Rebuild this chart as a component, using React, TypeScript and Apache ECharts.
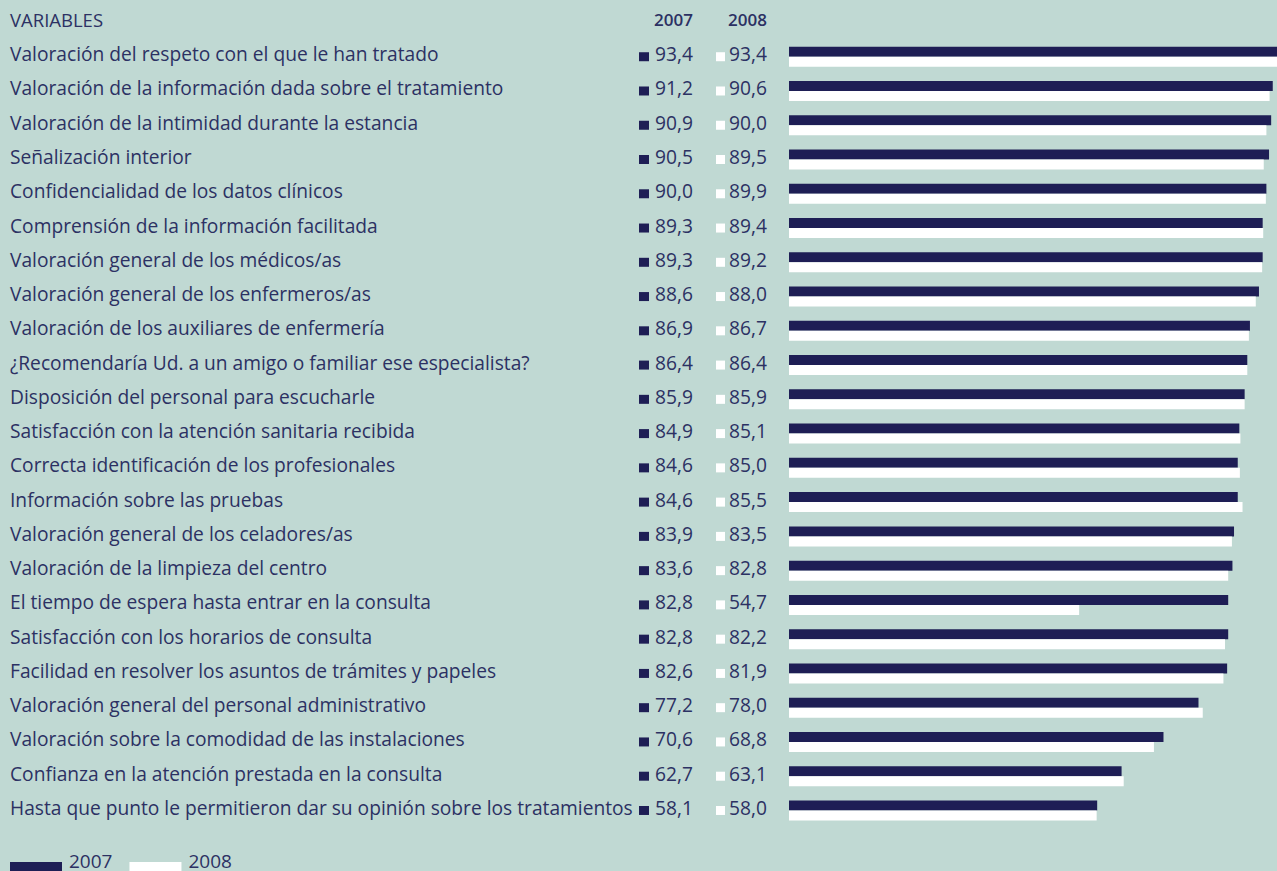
import React, { useEffect, useRef } from "react";
import * as echarts from "echarts";

const categories = [
  "Valoración del respeto con el que le han tratado",
  "Valoración de la información dada sobre el tratamiento",
  "Valoración de la intimidad durante la estancia",
  "Señalización interior",
  "Confidencialidad de los datos clínicos",
  "Comprensión de la información facilitada",
  "Valoración general de los médicos/as",
  "Valoración general de los enfermeros/as",
  "Valoración de los auxiliares de enfermería",
  "¿Recomendaría Ud. a un amigo o familiar ese especialista?",
  "Disposición del personal para escucharle",
  "Satisfacción con la atención sanitaria recibida",
  "Correcta identificación de los profesionales",
  "Información sobre las pruebas",
  "Valoración general de los celadores/as",
  "Valoración de la limpieza del centro",
  "El tiempo de espera hasta entrar en la consulta",
  "Satisfacción con los horarios de consulta",
  "Facilidad en resolver los asuntos de trámites y papeles",
  "Valoración general del personal administrativo",
  "Valoración sobre la comodidad de las instalaciones",
  "Confianza en la atención prestada en la consulta",
  "Hasta que punto le permitieron dar su opinión sobre los tratamientos",
];

const values2007 = [93.4, 91.2, 90.9, 90.5, 90.0, 89.3, 89.3, 88.6, 86.9, 86.4, 85.9, 84.9, 84.6, 84.6, 83.9, 83.6, 82.8, 82.8, 82.6, 77.2, 70.6, 62.7, 58.1];
const values2008 = [93.4, 90.6, 90.0, 89.5, 89.9, 89.4, 89.2, 88.0, 86.7, 86.4, 85.9, 85.1, 85.0, 85.5, 83.5, 82.8, 54.7, 82.2, 81.9, 78.0, 68.8, 63.1, 58.0];

const seriesNames = ["2007", "2008"];
const headerLabel = "VARIABLES";

const BG = "#c0d9d3";
const NAVY = "#1e1e55";
const TEXT = "#2c3163";
const FONT = "'Open Sans', sans-serif";
const FS = 19.2;

const fmt = (v: number) => v.toFixed(1).replace(".", ",");

export default function App() {
  const ref = useRef<HTMLDivElement>(null);
  useEffect(() => {
    if (!ref.current) return;
    const chart = echarts.init(ref.current, undefined, { renderer: "svg" });
    const txt = { fontSize: FS, color: TEXT, fontFamily: FONT, lineHeight: 20, padding: [0, 0, 6, 0] };
    const option: any = {
      animation: false,
      backgroundColor: BG,
      textStyle: { fontFamily: FONT },
      grid: { left: 789, right: 0, top: 39.6, height: 788, containLabel: false },
      xAxis: { type: "value", min: 0, max: 92, show: false },
      yAxis: {
        type: "category",
        data: categories,
        inverse: true,
        axisLine: { show: false },
        axisTick: { show: false },
        splitLine: { show: false },
        axisLabel: {
          interval: 0,
          align: "left",
          margin: 779,
          formatter: (v: string, i: number) =>
            `{n|${v}}{a|}{v|${fmt(values2007[i])}}{s|}{b|}{w|${fmt(values2008[i])}}`,
          rich: {
            n: { ...txt, width: 629, align: "left" },
            a: { width: 10, height: 9, backgroundColor: NAVY, align: "right" },
            v: { ...txt, width: 44, align: "right" },
            s: { width: 23, align: "right" },
            b: { width: 9, height: 9, backgroundColor: "#ffffff", align: "right" },
            w: { ...txt, width: 42, align: "right" },
          },
        },
      },
      legend: {
        left: 10,
        top: 851.5,
        padding: 0,
        itemWidth: 52,
        itemHeight: 16,
        itemGap: 17,
        icon: "rect",
        data: seriesNames,
        formatter: (name: string) => `{a|${name}}\n{b|}`,
        textStyle: {
          color: TEXT,
          fontFamily: FONT,
          rich: {
            a: { fontSize: 19, lineHeight: 19, color: TEXT, fontFamily: FONT, padding: [0, 0, 0, 2] },
            b: { height: 18, lineHeight: 18 },
          },
        },
      },
      graphic: [
        {
          type: "text",
          x: 10,
          y: 19.5,
          style: { text: headerLabel, fill: TEXT, fontSize: 18.5, fontWeight: "normal", fontFamily: FONT, align: "left", verticalAlign: "middle" },
        },
        {
          type: "text",
          x: 693,
          y: 19.5,
          style: { text: seriesNames[0], fill: TEXT, fontSize: 17, fontWeight: 600, fontFamily: FONT, align: "right", verticalAlign: "middle" },
        },
        {
          type: "text",
          x: 767,
          y: 19.5,
          style: { text: seriesNames[1], fill: TEXT, fontSize: 17, fontWeight: 600, fontFamily: FONT, align: "right", verticalAlign: "middle" },
        },
      ],
      series: [
        {
          name: seriesNames[0],
          type: "bar",
          data: values2007,
          barWidth: 10,
          barGap: "0%",
          clip: false,
          itemStyle: { color: NAVY },
        },
        {
          name: seriesNames[1],
          type: "bar",
          data: values2008,
          barWidth: 10,
          barGap: "0%",
          clip: false,
          itemStyle: { color: "#ffffff" },
        },
      ],
    };
    chart.setOption(option);
    return () => chart.dispose();
  }, []);
  return (
    <div
      ref={ref}
      style={{ position: "fixed", left: 0, top: 0, width: 1277, height: 871 }}
    />
  );
}
